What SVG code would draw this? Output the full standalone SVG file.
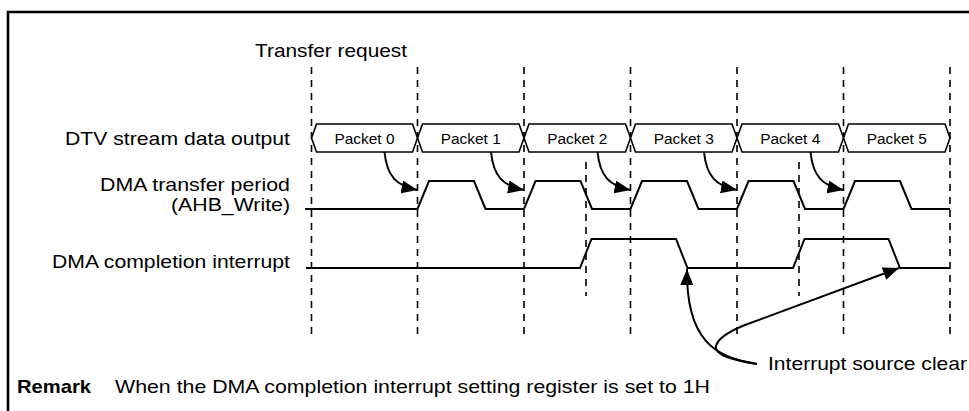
<svg xmlns="http://www.w3.org/2000/svg" width="969" height="411" viewBox="0 0 969 411">
  <defs>
    <style>
      .txt { font-family: "Liberation Sans", Arial, sans-serif; font-size: 19px; fill: #000; }
      .bold { font-weight: bold; }
      .pkt { font-family: "Liberation Sans", Arial, sans-serif; font-size: 14px; fill: #000; text-anchor: middle; }
      .grid { stroke: #000; stroke-width: 1.6; stroke-dasharray: 7 6; fill: none; }
      .wave { stroke: #000; stroke-width: 2; fill: none; stroke-linejoin: miter; }
      .hex { stroke: #000; stroke-width: 1.6; fill: #fff; }
      .arrow { stroke: #000; stroke-width: 2; fill: none; marker-end: url(#head); }
      .frame { stroke: #000; stroke-width: 2.6; fill: none; }
    </style>
    <marker id="head" markerUnits="userSpaceOnUse" markerWidth="18" markerHeight="14" refX="16" refY="6.5" orient="auto">
      <path d="M0,0 L16,6.5 L0,13 z" fill="#000"/>
    </marker>
  </defs>

  <rect width="969" height="411" fill="#fff"/>
  <!-- outer frame (open to the right and bottom edges) -->
  <path class="frame" d="M8,411 V12 H969"/>

  <!-- transfer request timing lines -->
  <g id="grid">
    <line class="grid" x1="311.5" y1="67" x2="311.5" y2="338"/>
    <line class="grid" x1="417.5" y1="67" x2="417.5" y2="338"/>
    <line class="grid" x1="524" y1="67" x2="524" y2="338"/>
    <line class="grid" x1="630.5" y1="67" x2="630.5" y2="338"/>
    <line class="grid" x1="737" y1="67" x2="737" y2="338"/>
    <line class="grid" x1="843.5" y1="67" x2="843.5" y2="338"/>
    <line class="grid" x1="950" y1="67" x2="950" y2="338"/>
    <line class="grid" x1="586" y1="162" x2="586" y2="296"/>
    <line class="grid" x1="799" y1="162" x2="799" y2="296"/>
  </g>

  <!-- signal names -->
  <g id="labels">
    <text class="txt" x="255" y="57" textLength="152" lengthAdjust="spacingAndGlyphs">Transfer request</text>
    <text class="txt" x="65" y="145" textLength="225" lengthAdjust="spacingAndGlyphs">DTV stream data output</text>
    <text class="txt" x="100" y="191" textLength="190" lengthAdjust="spacingAndGlyphs">DMA transfer period</text>
    <text class="txt" x="171" y="211" textLength="119" lengthAdjust="spacingAndGlyphs">(AHB_Write)</text>
    <text class="txt" x="52" y="268" textLength="238" lengthAdjust="spacingAndGlyphs">DMA completion interrupt</text>
  </g>

  <!-- DTV stream data output packets -->
  <g id="packet0">
    <polygon class="hex" points="311.5,138 316.5,124 412.5,124 417.5,138 412.5,152 316.5,152"/>
    <text class="pkt" x="364.5" y="143.5" textLength="60" lengthAdjust="spacingAndGlyphs">Packet 0</text>
  </g>
  <g id="packet1">
    <polygon class="hex" points="417.5,138 422.5,124 519,124 524,138 519,152 422.5,152"/>
    <text class="pkt" x="470.75" y="143.5" textLength="60" lengthAdjust="spacingAndGlyphs">Packet 1</text>
  </g>
  <g id="packet2">
    <polygon class="hex" points="524,138 529,124 625.5,124 630.5,138 625.5,152 529,152"/>
    <text class="pkt" x="577.25" y="143.5" textLength="60" lengthAdjust="spacingAndGlyphs">Packet 2</text>
  </g>
  <g id="packet3">
    <polygon class="hex" points="630.5,138 635.5,124 732,124 737,138 732,152 635.5,152"/>
    <text class="pkt" x="683.75" y="143.5" textLength="60" lengthAdjust="spacingAndGlyphs">Packet 3</text>
  </g>
  <g id="packet4">
    <polygon class="hex" points="737,138 742,124 838.5,124 843.5,138 838.5,152 742,152"/>
    <text class="pkt" x="790.25" y="143.5" textLength="60" lengthAdjust="spacingAndGlyphs">Packet 4</text>
  </g>
  <g id="packet5">
    <polygon class="hex" points="843.5,138 848.5,124 945,124 950,138 945,152 848.5,152"/>
    <text class="pkt" x="896.75" y="143.5" textLength="60" lengthAdjust="spacingAndGlyphs">Packet 5</text>
  </g>

  <!-- DMA transfer period waveform -->
  <g id="dma-transfer">
    <path class="wave" d="M305,209 H417.5 L429,181 H474 L485.5,209 H524 L535.5,181 H580.5 L592,209 H630.5 L642,181 H687 L698.5,209 H737 L748.5,181 H793.5 L805,209 H843.5 L855,181 H900 L911.5,209 H950"/>
  </g>

  <!-- DMA completion interrupt waveform -->
  <g id="dma-interrupt">
    <path class="wave" d="M306,268 H580 L591.5,239 H676 L687.5,268 H793 L804.5,239 H888.5 L900,268 H950"/>
  </g>

  <!-- causal arrows -->
  <g id="connectors">
    <path class="arrow" d="M384.5,152 C387,177 397,186 417.5,190"/>
    <path class="arrow" d="M491,152 C493.5,177 503.5,186 524,190"/>
    <path class="arrow" d="M597.5,152 C600,177 610,186 630.5,190"/>
    <path class="arrow" d="M704,152 C706.5,177 716.5,186 737,190"/>
    <path class="arrow" d="M810.5,152 C813,177 823,186 843.5,190"/>
    <path class="arrow" d="M757,364 C715,358 686,340 687,269"/>
    <path class="arrow" d="M757,364 C735,360 714,356 716,346 C718,338 730,331 745,325 L899,268"/>
  </g>

  <!-- annotations -->
  <g id="notes">
    <text class="txt" x="768" y="370" textLength="199" lengthAdjust="spacingAndGlyphs">Interrupt source clear</text>
    <text class="txt bold" x="17" y="393" textLength="74" lengthAdjust="spacingAndGlyphs">Remark</text>
    <text class="txt" x="115" y="393" textLength="595" lengthAdjust="spacingAndGlyphs">When the DMA completion interrupt setting register is set to 1H</text>
  </g>
</svg>
